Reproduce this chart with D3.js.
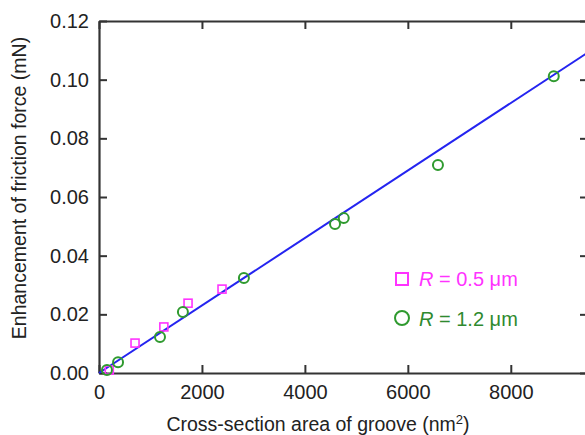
<!DOCTYPE html>
<html>
<head>
<meta charset="utf-8">
<script src="https://cdn.jsdelivr.net/npm/d3@7"></script>
<style>
  body { margin: 0; background: #fff; }
  svg text { font-family: "Liberation Sans", Arial, sans-serif; }
</style>
</head>
<body>
<script>
// data
const squareX = [200, 700, 1260, 1730, 2390];
const squareY = [0.0010, 0.0102, 0.0157, 0.0238, 0.0286];
const circleX = [155, 370, 1185, 1630, 2815, 4585, 4755, 6585, 8835];
const circleY = [0.0010, 0.0037, 0.0123, 0.0208, 0.0324, 0.0508, 0.0528, 0.0709, 0.1012];
const fitX = [0, 9500];
const fitY = [0, 0.1093];
const xTicks = [0, 2000, 4000, 6000, 8000];
const yTicks = [0, 0.02, 0.04, 0.06, 0.08, 0.10, 0.12];

const width = 585, height = 435;
const margin = {top: 21, right: -3, bottom: 62, left: 99};

const svg = d3.select("body").append("svg")
    .attr("width", width)
    .attr("height", height);

const x = d3.scaleLinear()
    .domain([0, 9500])
    .range([margin.left, width - margin.right]);
const y = d3.scaleLinear()
    .domain([0, 0.12])
    .range([height - margin.bottom, margin.top]);

const axisColor = "#333";

// bottom axis
const gx = svg.append("g")
    .attr("transform", "translate(0," + y(0) + ")")
    .call(d3.axisBottom(x).tickValues(xTicks).tickFormat(d3.format("d"))
      .tickSizeInner(-8).tickSizeOuter(0).tickPadding(12));
// top axis
const gxt = svg.append("g")
    .attr("transform", "translate(0," + y(0.12) + ")")
    .call(d3.axisTop(x).tickValues(xTicks).tickFormat("")
      .tickSizeInner(-8).tickSizeOuter(0));
// left axis
const gy = svg.append("g")
    .attr("transform", "translate(" + x(0) + ",0)")
    .call(d3.axisLeft(y).tickValues(yTicks).tickFormat(d3.format(".2f"))
      .tickSizeInner(-8).tickSizeOuter(0).tickPadding(10));
// right axis
const gyr = svg.append("g")
    .attr("transform", "translate(" + x(9500) + ",0)")
    .call(d3.axisRight(y).tickValues(yTicks).tickFormat("")
      .tickSizeInner(-8).tickSizeOuter(0));

[gx, gxt, gy, gyr].forEach(g => {
  g.selectAll("path").attr("stroke", axisColor).attr("stroke-width", 2.2);
  g.selectAll("line").attr("stroke", axisColor).attr("stroke-width", 2);
  g.selectAll("text").attr("fill", "#222").style("font-size", "20px");
});

// fit line
const line = d3.line()
    .x((d, i) => x(fitX[i]))
    .y((d, i) => y(fitY[i]));
svg.append("path")
    .datum(fitX)
    .attr("d", line)
    .attr("fill", "none")
    .attr("stroke", "#2424f0")
    .attr("stroke-width", 2);

// squares
svg.append("g").selectAll("rect")
    .data(squareX)
    .enter()
    .append("rect")
      .attr("x", (d, i) => x(d) - 4)
      .attr("y", (d, i) => y(squareY[i]) - 4)
      .attr("width", 8)
      .attr("height", 8)
      .attr("fill", "none")
      .attr("stroke", "#ff33ff")
      .attr("stroke-width", 1.6);

// circles
svg.append("g").selectAll("circle")
    .data(circleX)
    .enter()
    .append("circle")
      .attr("cx", d => x(d))
      .attr("cy", (d, i) => y(circleY[i]))
      .attr("r", 5)
      .attr("fill", "none")
      .attr("stroke", "#2f9a2f")
      .attr("stroke-width", 2);

// legend
const leg = svg.append("g");
leg.append("rect")
    .attr("x", 396).attr("y", 273).attr("width", 12).attr("height", 12)
    .attr("fill", "none").attr("stroke", "#ff33ff").attr("stroke-width", 2);
const t1 = leg.append("text").attr("x", 419).attr("y", 286)
    .attr("fill", "#ff33ff").style("font-size", "20px");
t1.append("tspan").attr("font-style", "italic").text("R");
t1.append("tspan").text(" = 0.5 \u03bcm");

leg.append("circle")
    .attr("cx", 402).attr("cy", 318).attr("r", 7)
    .attr("fill", "none").attr("stroke", "#2f9a2f").attr("stroke-width", 2);
const t2 = leg.append("text").attr("x", 419).attr("y", 326)
    .attr("fill", "#2f8a2f").style("font-size", "20px");
t2.append("tspan").attr("font-style", "italic").text("R");
t2.append("tspan").text(" = 1.2 \u03bcm");

// axis titles
const xt = svg.append("text")
    .attr("x", 318).attr("y", 431)
    .attr("text-anchor", "middle")
    .attr("fill", "#222")
    .style("font-size", "19.5px");
xt.append("tspan").text("Cross-section area of groove (nm");
xt.append("tspan").attr("baseline-shift", "super").style("font-size", "13px").text("2");
xt.append("tspan").text(")");

svg.append("text")
    .attr("transform", "translate(26,188) rotate(-90)")
    .attr("text-anchor", "middle")
    .attr("fill", "#222")
    .style("font-size", "19.5px")
    .text("Enhancement of friction force (mN)");
</script>
</body>
</html>
